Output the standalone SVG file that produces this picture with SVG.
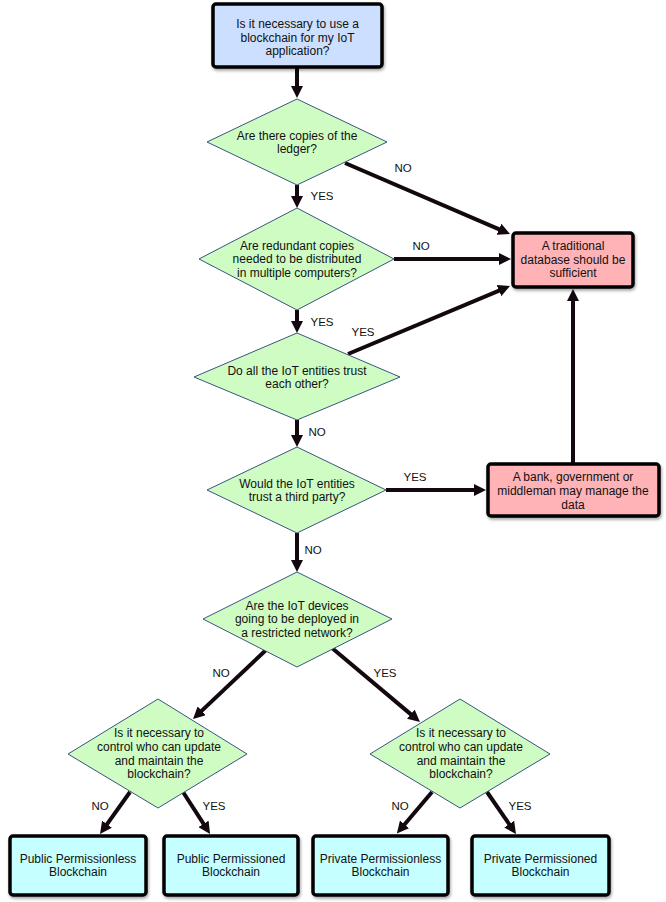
<svg xmlns="http://www.w3.org/2000/svg" width="666" height="902" viewBox="0 0 666 902">
<style>
.box{stroke:#000;stroke-width:3.5;filter:url(#sh)}
.start{fill:#CCDFFF}
.pink{fill:#FFB3B7}
.cyan{fill:#C6FFFF}
.dia{fill:#CFFCC3;stroke:#3A5480;stroke-width:1}
text{font-family:"Liberation Sans",Arial,sans-serif;font-size:12px;fill:#111;text-anchor:middle}
.lbl{font-size:11.5px}
.con path{fill:none;stroke:#140810;stroke-width:4;marker-end:url(#ah)}
</style>
<defs>
<filter id="sh" x="-10%" y="-10%" width="130%" height="140%">
<feDropShadow dx="1" dy="2" stdDeviation="1.5" flood-color="#000" flood-opacity="0.35"/>
</filter>
<marker id="ah" viewBox="0 0 10 10" refX="5" refY="5" markerWidth="12" markerHeight="12" markerUnits="userSpaceOnUse" orient="auto">
<path d="M0,0 L10,5 L0,10 z" fill="#140810"/>
</marker>
</defs>
<g class="con" id="connectors">
<path d="M297,68 L297,92"/>
<path d="M297,185 L297,202"/>
<path d="M345,163 L504.5,231.6"/>
<path d="M394,259 L505,259"/>
<path d="M297,310 L297,327"/>
<path d="M348,354 L504.5,288.3"/>
<path d="M297,420 L297,441"/>
<path d="M386,490 L480,490"/>
<path d="M573,463 L573,295"/>
<path d="M297,533 L297,566"/>
<path d="M266,650 L197.4,714.9"/>
<path d="M332,648 L415.4,718.1"/>
<path d="M130,792 L103.5,829.1"/>
<path d="M183,792 L206.8,828.9"/>
<path d="M432,792 L400.7,829"/>
<path d="M487,792 L512.6,829.1"/>
</g>
<g id="labels">
<text class="lbl" x="403" y="172">NO</text>
<text class="lbl" x="322" y="200">YES</text>
<text class="lbl" x="421" y="250">NO</text>
<text class="lbl" x="322" y="326">YES</text>
<text class="lbl" x="363" y="336">YES</text>
<text class="lbl" x="317" y="436">NO</text>
<text class="lbl" x="415" y="481">YES</text>
<text class="lbl" x="313" y="554">NO</text>
<text class="lbl" x="221" y="677">NO</text>
<text class="lbl" x="385" y="677">YES</text>
<text class="lbl" x="100" y="810">NO</text>
<text class="lbl" x="214" y="810">YES</text>
<text class="lbl" x="400" y="810">NO</text>
<text class="lbl" x="520" y="810">YES</text>
</g>
<g id="start">
<rect class="box start" x="213" y="4" width="169" height="63" rx="3"/>
<text x="297.5" y="28">Is it necessary to use a</text>
<text x="297.5" y="41.5">blockchain for my IoT</text>
<text x="297.5" y="55">application?</text>
</g>
<g id="d1">
<polygon class="dia" points="297,99 387,142 297,185 207,142"/>
<text x="297" y="139.5">Are there copies of the</text>
<text x="297" y="153">ledger?</text>
</g>
<g id="d2">
<polygon class="dia" points="297,208 394,259 297,310 199,259"/>
<text x="297" y="249.5">Are redundant copies</text>
<text x="297" y="263">needed to be distributed</text>
<text x="297" y="276.5">in multiple computers?</text>
</g>
<g id="pink1">
<rect class="box pink" x="513" y="233" width="120" height="54" rx="3"/>
<text x="573" y="250">A traditional</text>
<text x="573" y="264">database should be</text>
<text x="573" y="277">sufficient</text>
</g>
<g id="d3">
<polygon class="dia" points="297,333 400,377 297,420 194,377"/>
<text x="297" y="374.5">Do all the IoT entities trust</text>
<text x="297" y="388">each other?</text>
</g>
<g id="d4">
<polygon class="dia" points="297,447 386,490 297,533 207,490"/>
<text x="297" y="487.5">Would the IoT entities</text>
<text x="297" y="500.5">trust a third party?</text>
</g>
<g id="pink2">
<rect class="box pink" x="488" y="464" width="171" height="52" rx="3"/>
<text x="573" y="481">A bank, government or</text>
<text x="573" y="495">middleman may manage the</text>
<text x="573" y="508.5">data</text>
</g>
<g id="d5">
<polygon class="dia" points="297,572 392,619 297,667 203,619"/>
<text x="297" y="609.5">Are the IoT devices</text>
<text x="297" y="623">going to be deployed in</text>
<text x="297" y="636.5">a restricted network?</text>
</g>
<g id="d6">
<polygon class="dia" points="158,699 247,754 158,808 68,754"/>
<text x="159" y="737">Is it necessary to</text>
<text x="159" y="751">control who can update</text>
<text x="159" y="764.5">and maintain the</text>
<text x="159" y="778">blockchain?</text>
</g>
<g id="d7">
<polygon class="dia" points="460,699 550,754 460,808 370,754"/>
<text x="461" y="737">Is it necessary to</text>
<text x="461" y="751">control who can update</text>
<text x="461" y="764.5">and maintain the</text>
<text x="461" y="778">blockchain?</text>
</g>
<g id="b1">
<rect class="box cyan" x="10" y="836" width="136" height="59" rx="3"/>
<text x="78" y="862.5">Public Permissionless</text>
<text x="78" y="876">Blockchain</text>
</g>
<g id="b2">
<rect class="box cyan" x="164" y="836" width="134" height="59" rx="3"/>
<text x="231" y="862.5">Public Permissioned</text>
<text x="231" y="876">Blockchain</text>
</g>
<g id="b3">
<rect class="box cyan" x="313" y="836" width="135" height="59" rx="3"/>
<text x="380.5" y="862.5">Private Permissionless</text>
<text x="380.5" y="876">Blockchain</text>
</g>
<g id="b4">
<rect class="box cyan" x="472" y="836" width="137" height="59" rx="3"/>
<text x="540.5" y="862.5">Private Permissioned</text>
<text x="540.5" y="876">Blockchain</text>
</g>
</svg>
